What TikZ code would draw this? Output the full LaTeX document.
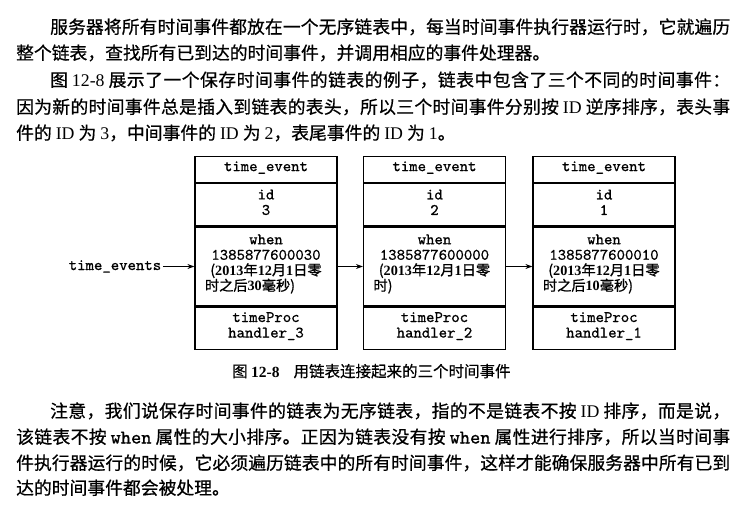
\documentclass[tikz,border=0pt]{standalone}
\usepackage{fontspec}
\setmainfont{Liberation Serif}
\setmonofont{lmmono10-regular.otf}[FakeBold=0.9]
\newfontfamily\cjk[FakeBold=0.6]{Noto Sans CJK SC}
\newfontfamily\cjkb[FakeBold=1.0]{Noto Sans CJK SC}
\usetikzlibrary{arrows.meta}
% inter-character glue between CJK characters (for justified lines)
\XeTeXinterchartokenstate=1
\newXeTeXintercharclass\zhcls
\count255="4E00
\loop \XeTeXcharclass\count255=\zhcls \advance\count255 by 1 \ifnum\count255<"A000 \repeat
\XeTeXcharclass"FF0C=\zhcls
\XeTeXcharclass"3002=\zhcls
\XeTeXcharclass"FF1A=\zhcls
\XeTeXinterchartoks\zhcls\zhcls={\hskip0pt plus 1fil\relax}
\newcommand\lat[1]{{\rmfamily #1}}
\newcommand\latb[1]{{\rmfamily\bfseries #1}}
\newcommand\mono[1]{{\ttfamily\fontsize{19.5bp}{20bp}\selectfont #1}}
\newcommand\jline[2]{\makebox[#1][s]{\cjk #2}}
\tikzset{
  body/.style={anchor=base west, inner sep=0pt, font=\fontsize{17.8bp}{20bp}\selectfont},
  cell/.style={draw, line width=1.2bp, minimum width=142bp, inner sep=0pt, anchor=north},
  celltext/.style={inner sep=0pt, align=center, font=\fontsize{16bp}{15.5bp}\ttfamily},
  arr/.style={-{Stealth[length=7bp,width=5bp]}, line width=0.9bp},
  lbl/.style={inner sep=1.5bp, anchor=east, font=\fontsize{16bp}{16bp}\ttfamily}
}
\newcommand\zh[1]{\hbox{\cjkb\fontsize{14.2bp}{15.5bp}\selectfont #1}}
\begin{document}
\begin{tikzpicture}[x=1bp,y=-1bp]
\useasboundingbox (0,0) rectangle (752,508);
\fill[white] (0,0) rectangle (752,508);
% top paragraph
\node[body] (p1) at (50,33.5) {\jline{680bp}{服务器将所有时间事件都放在一个无序链表中，每当时间事件执行器运行时，它就遍历}};
\node[body] (p2) at (16,59.5) {\cjk 整个链表，查找所有已到达的时间事件，并调用相应的事件处理器。};
\node[body] (p3) at (50,86.5) {\jline{680bp}{图 \lat{12-8} 展示了一个保存时间事件的链表的例子，链表中包含了三个不同的时间事件：}};
\node[body] (p4) at (16,113.5) {\jline{714bp}{因为新的时间事件总是插入到链表的表头，所以三个时间事件分别按 \lat{ID} 逆序排序，表头事}};
\node[body] (p5) at (16,139.5) {\cjk 件的 \lat{ID} 为 \lat{3}，中间事件的 \lat{ID} 为 \lat{2}，表尾事件的 \lat{ID} 为 \lat{1}。};
% boxes
\foreach \i/\x/\id/\when/\zhA/\zhB in {
  1/266/3/1385877600030/{(\latb{2013}年\latb{12}月\latb{1}日零}/{时之后\latb{30}毫秒)},
  2/434.5/2/1385877600000/{(\latb{2013}年\latb{12}月\latb{1}日零}/{时)},
  3/604/1/1385877600010/{(\latb{2013}年\latb{12}月\latb{1}日零}/{时之后\latb{10}毫秒)}}{
  \node[cell, minimum height=26bp] (a\i) at (\x,156) {};
  \node[cell, minimum height=42bp] (b\i) at (a\i.south) {};
  \node[cell, minimum height=79bp] (c\i) at (b\i.south) {};
  \node[cell, minimum height=42bp] (d\i) at (c\i.south) {};
  \node[celltext] (ta\i) at ([yshift=2bp]a\i.center) {time\_event};
  \node[celltext] (tb\i) at ([yshift=2.5bp]b\i.center) {id\\\id};
  \node[celltext] (tc\i) at ([yshift=2.5bp]c\i.center) {when\\\when\\\zh{\zhA}\\\makebox[122bp][l]{\zh{\zhB}}};
  \node[celltext] (td\i) at ([yshift=2bp]d\i.center) {timeProc\\handler\_\id};
}
\node[lbl] (te) at ([xshift=-31.5bp]c1.west) {time\_events};
\draw[arr] (te.east) -- (c1.west);
\draw[arr] (c1.east) -- (c2.west);
\draw[arr] (c2.east) -- (c3.west);
% caption
\node[anchor=base west, inner sep=0pt, font=\fontsize{15.5bp}{18bp}\selectfont] (cap) at (232,377) {\cjk 图 \latb{12-8}\hspace{14bp}用链表连接起来的三个时间事件};
% bottom paragraph
\node[body] (q1) at (50,417.5) {\jline{680bp}{注意，我们说保存时间事件的链表为无序链表，指的不是链表不按 \lat{ID} 排序，而是说，}};
\node[body] (q2) at (16,443.5) {\jline{714bp}{该链表不按 \mono{when} 属性的大小排序。正因为链表没有按 \mono{when} 属性进行排序，所以当时间事}};
\node[body] (q3) at (16,469.5) {\jline{714bp}{件执行器运行的时候，它必须遍历链表中的所有时间事件，这样才能确保服务器中所有已到}};
\node[body] (q4) at (16,494.5) {\cjk 达的时间事件都会被处理。};
\end{tikzpicture}
\end{document}
